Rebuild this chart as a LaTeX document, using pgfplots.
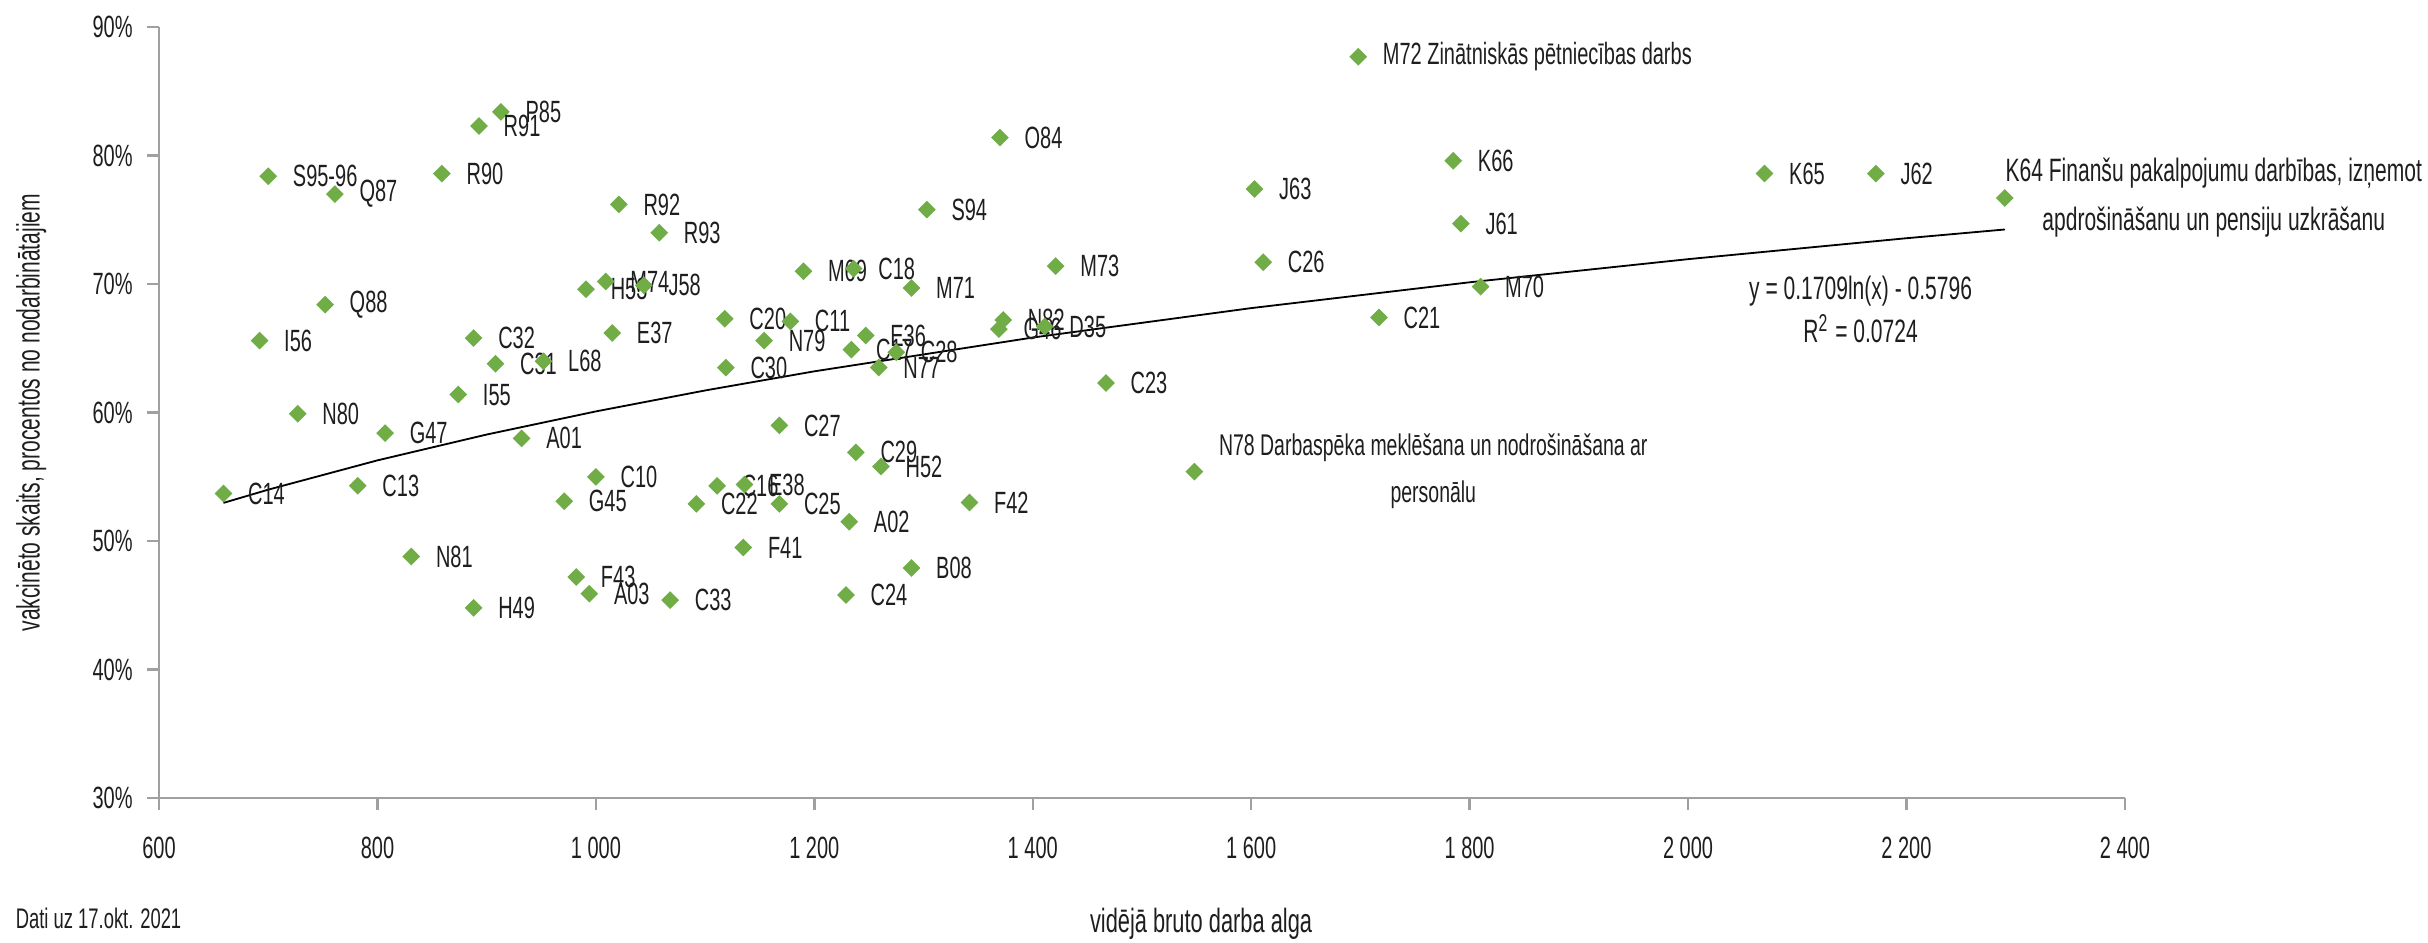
\documentclass[border=0pt]{standalone}
\usepackage{fontspec}
\setmainfont{Liberation Sans}[FakeStretch=0.65]
\usepackage{pgfplots}
\pgfplotsset{compat=1.18}
\usepackage{pgfplotstable}
\definecolor{mkgreen}{RGB}{112,173,71}
\definecolor{axgray}{RGB}{160,160,160}
\definecolor{txt}{RGB}{30,30,30}

\pgfplotstableread[col sep=comma]{
x,y,lbl
913,83.4,P85
893,82.3,R91
700,78.4,S95-96
761,77.0,Q87
859,78.6,R90
752,68.4,Q88
692,65.6,I56
888,65.8,C32
908,63.8,C31
952,64.0,L68
874,61.4,I55
659,53.7,C14
727,59.9,N80
807,58.4,G47
932,58.0,A01
782,54.3,C13
1000,55.0,C10
971,53.1,G45
831,48.8,N81
982,47.2,F43
994,45.9,A03
888,44.8,H49
1021,76.2,R92
1058,74.0,R93
991,69.6,H53
1009,70.2,M74
1044,69.9,J58
1015,66.2,E37
1118,67.3,C20
1154,65.6,N79
1178,67.1,C11
1119,63.5,C30
1190,71.0,M69
1236,71.2,C18
1289,69.7,M71
1303,75.8,S94
1370,81.4,O84
1247,66.0,E36
1234,64.9,C17
1275,64.7,C28
1259,63.5,N77
1369,66.5,G46
1373,67.2,N82
1411,66.7,D35
1168,59.0,C27
1238,56.9,C29
1261,55.8,H52
1092,52.9,C22
1111,54.3,C16
1136,54.4,E38
1168,52.9,C25
1232,51.5,A02
1342,53.0,F42
1135,49.5,F41
1289,47.9,B08
1229,45.8,C24
1068,45.4,C33
1603,77.4,J63
1421,71.4,M73
1611,71.7,C26
1717,67.4,C21
1467,62.3,C23
1785,79.6,K66
1792,74.7,J61
1810,69.8,M70
2070,78.6,K65
2172,78.6,J62
}\points

\begin{document}
\begin{tikzpicture}[font=\fontsize{7.6}{9}\selectfont, text=txt]
\useasboundingbox (-39.3pt,-35.6pt) rectangle (560.7pt,197.2pt);
\begin{axis}[
  scale only axis,
  width=485.8pt, height=190.5pt,
  xmin=600, xmax=2400, ymin=30, ymax=90,
  xtick={600,800,...,2400}, ytick={30,40,...,90},
  axis x line*=bottom, axis y line*=left,
  axis line style={axgray, line width=0.6pt, -},
  tick style={axgray, line width=0.6pt},
  tick align=outside, major tick length=3pt,
  ticklabel style={font=\fontsize{7.6}{9}\selectfont, text=txt},
  /pgf/number format/assume math mode=true,
  /pgf/number format/1000 sep={\ },
  yticklabel={\pgfmathprintnumber{\tick}\%},
  xticklabel style={yshift=-3pt},
  every node near coord/.style={anchor=west, inner sep=0pt, xshift=5.9pt,
    font=\fontsize{7.6}{9}\selectfont, text=txt},
  clip=false,
]
% trend line y = 0.1709 ln(x) - 0.5796
\addplot[black, line width=0.45pt] coordinates {
  (659,52.97) (700,54.00) (800,56.28) (900,58.29) (1000,60.09) (1100,61.72)
  (1200,63.21) (1400,65.84) (1600,68.13) (1800,70.14) (2000,71.94)
  (2200,73.57) (2290,74.25)
};
\addplot[only marks, mark=square*, mark size=1.35pt,
  mark options={rotate=45, fill=mkgreen, draw=mkgreen},
  nodes near coords, point meta=explicit symbolic]
  table[x=x, y=y, meta=lbl] {\points};
\addplot[only marks, mark=square*, mark size=1.35pt,
  mark options={rotate=45, fill=mkgreen, draw=mkgreen},
  nodes near coords={M72 Zinātniskās pētniecības darbs}]
  coordinates {(1698,87.7)};
\addplot[only marks, mark=square*, mark size=1.35pt,
  mark options={rotate=45, fill=mkgreen, draw=mkgreen},
  nodes near coords={N78 Darbaspēka meklēšana un nodrošināšana ar\\personālu},
  every node near coord/.append style={align=center, font=\fontsize{7.4}{11.6}\selectfont}]
  coordinates {(1548,55.4)};
\addplot[only marks, mark=square*, mark size=1.35pt,
  mark options={rotate=45, fill=mkgreen, draw=mkgreen},
  nodes near coords={K64 Finanšu pakalpojumu darbības, izņemot\\apdrošināšanu un pensiju uzkrāšanu},
  every node near coord/.append style={align=center, xshift=-5.9pt, font=\fontsize{8}{12.1}\selectfont}]
  coordinates {(2290,76.7)};
\node[align=center, font=\fontsize{8}{10.6}\selectfont] at (axis cs:2158,68)
  {y = 0.1709ln(x) - 0.5796\\R\textsuperscript{2} = 0.0724};
\end{axis}
\node[rotate=90, font=\fontsize{8}{9}\selectfont] at (-31.6pt,95.25pt) {vakcinēto skaits, procentos no nodarbinātajiem};
\node[font=\fontsize{8.3}{9}\selectfont] at (257.5pt,-31.1pt) {vidējā bruto darba alga};
\node[anchor=west, inner sep=0pt, font=\fontsize{7}{9}\selectfont] at (-35.6pt,-29.7pt) {Dati uz 17.okt. 2021};
\end{tikzpicture}
\end{document}
